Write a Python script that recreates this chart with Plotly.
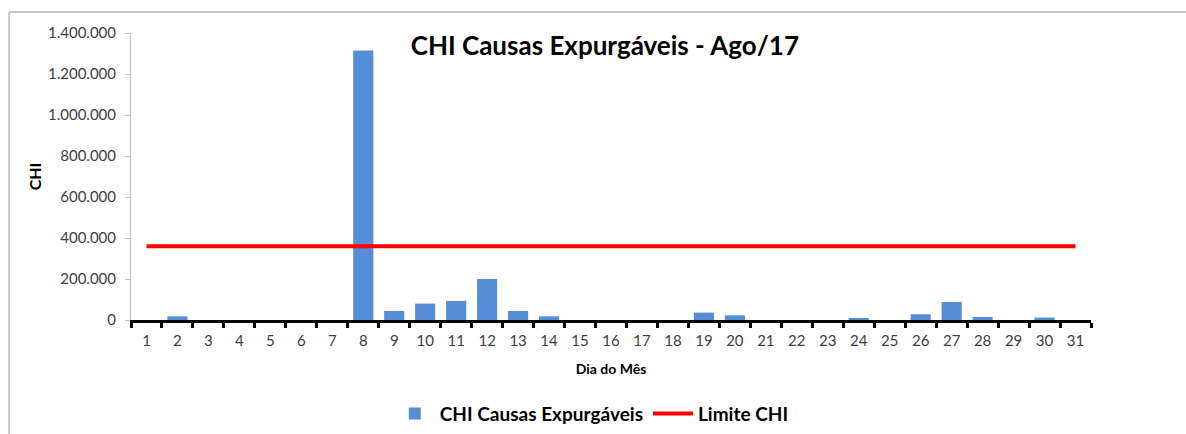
import plotly.graph_objects as go

days = [str(d) for d in range(1, 32)]
chi_values = [0, 18000, 0, 0, 0, 0, 0, 1315000, 44000, 80000, 93000, 200000, 44000, 18000,
              0, 0, 0, 0, 36000, 23000, 0, 0, 0, 8000, 0, 28000, 88000, 15000, 0, 12000, 0]
limit_value = 360000
limit_values = [limit_value] * len(days)
y_ticks = [0, 200000, 400000, 600000, 800000, 1000000, 1200000, 1400000]

FONT = "Lato, 'Open Sans', sans-serif"

fig = go.Figure()
fig.add_trace(go.Bar(x=days, y=chi_values, name="<b>CHI Causas Expurgáveis</b>",
                     marker=dict(color="#558ED5", line=dict(width=0))))
fig.add_trace(go.Scatter(x=days, y=limit_values, name="<b>Limite CHI</b>", mode="lines",
                         line=dict(color="#FF0000", width=4)))

fig.update_layout(
    width=1186, height=434,
    margin=dict(l=131, r=95, t=33, b=114, autoexpand=False),
    paper_bgcolor="white", plot_bgcolor="white",
    separators=",.",
    bargap=0.35,
    font=dict(family=FONT, color="#404040", size=13),
    title=dict(text="<b>CHI Causas Expurgáveis - Ago/17</b>", x=0.51, xanchor="center",
               y=0.895, yanchor="middle", font=dict(size=26, color="#000000", family=FONT)),
    showlegend=True,
    legend=dict(orientation="h", x=0.48, xanchor="center", y=-0.26, yanchor="top",
                font=dict(size=19, color="#000000", family=FONT), itemwidth=40),
    xaxis=dict(type="category", automargin=False, showline=True, linecolor="#000000", linewidth=3,
               ticks="outside", tickson="boundaries", ticklen=5, tickwidth=3, tickcolor="#000000",
               showgrid=False, tickfont=dict(size=15, color="#404040"), ticklabelstandoff=5,
               title=dict(text="<b>Dia do Mês</b>", font=dict(size=14, color="#000000"), standoff=17)),
    yaxis=dict(range=[0, 1400000], automargin=False, tickvals=y_ticks, tickformat=",d", showgrid=False,
               showline=True, linecolor="#BFBFBF", linewidth=1, ticks="outside", ticklen=5,
               tickcolor="#BFBFBF", zeroline=False, tickfont=dict(size=15, color="#404040"),
               ticklabelstandoff=6,
               title=dict(text="<b>CHI</b>", font=dict(size=16, color="#000000"), standoff=2)),
)

fig.add_shape(type="line", xref="paper", yref="paper", x0=-0.127, x1=1.1, y0=1.073, y1=1.073,
              line=dict(color="#C8C8C8", width=2))
fig.add_shape(type="line", xref="paper", yref="paper", x0=-0.127, x1=-0.127, y0=1.073, y1=-0.4,
              line=dict(color="#C8C8C8", width=2))

fig.write_html("out.html", config={"displayModeBar": False},
               post_script="document.body.style.margin='0';")
